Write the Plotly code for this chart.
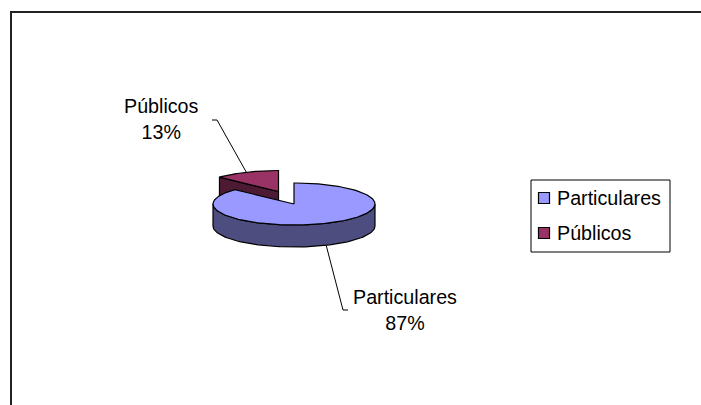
import numpy as np
import plotly.graph_objects as go

# ---- data ----
labels = ["Particulares", "Públicos"]
values = [87, 13]

# ---- styles ----
top_colors = ["#9999FF", "#993366"]
side_colors = ["#4D4D80", "#4D1A33"]
explode = [0.0, 1.0]
FONT = "Arial, Liberation Sans, sans-serif"
FS = 19.7

W, H = 701, 405
CX, CY = 294, 204          # pie centre (px)
RX, RY = 81, 21            # ellipse radii (px)
DEPTH = 22                 # pie thickness (px)
EXP_X, EXP_Y = 15.5 / 32.2, 12.5 / 19.3   # explosion factors

total = float(sum(values))
fracs = [v / total for v in values]
starts = np.concatenate([[0.0], np.cumsum(fracs)[:-1]]) * 360.0
ends = np.cumsum(fracs) * 360.0
mids = (starts + ends) / 2.0


def centre(i):
    m = np.radians(mids[i])
    return (CX + explode[i] * EXP_X * RX * np.sin(m),
            CY - explode[i] * EXP_Y * RY * np.cos(m))


def arc(cx, cy, a0, a1, dz=0.0, n=80):
    t = np.radians(np.linspace(a0, a1, n))
    return cx + RX * np.sin(t), cy - RY * np.cos(t) + dz


fig = go.Figure()


def poly(xs, ys, color):
    xs = list(xs) + [xs[0]]
    ys = list(ys) + [ys[0]]
    fig.add_trace(go.Scatter(x=xs, y=ys, mode="lines", fill="toself",
                             fillcolor=color, line=dict(color="black", width=1.2),
                             hoverinfo="skip", showlegend=False))


# --- slice 1 (Públicos, exploded, behind) ---
i = 1
cx, cy = centre(i)
ax, ay = arc(cx, cy, starts[i], starts[i], n=1)
# cut face on start edge
poly([cx, ax[0], ax[0], cx], [cy, ay[0], ay[0] + DEPTH, cy + DEPTH], side_colors[i])
# top face
tx, ty = arc(cx, cy, starts[i], ends[i])
poly(np.concatenate([[cx], tx]), np.concatenate([[cy], ty]), top_colors[i])

# --- slice 0 (Particulares) ---
i = 0
cx, cy = centre(i)
a0 = max(starts[i], 90.0)
a1 = min(ends[i], 270.0)
wx1, wy1 = arc(cx, cy, a0, a1)
wx2, wy2 = arc(cx, cy, a1, a0, dz=DEPTH)
poly(np.concatenate([wx1, wx2]), np.concatenate([wy1, wy2]), side_colors[i])
tx, ty = arc(cx, cy, starts[i], ends[i], n=200)
poly(np.concatenate([[cx], tx]), np.concatenate([[cy], ty]), top_colors[i])

# --- data labels with leader lines ---
label_pos = [(405, 310), (161, 119)]     # label centre (px)
elbows = [((343, 310), (348, 310)), ((217, 120), (212, 120))]
on_wall = [True, False]
for i in range(len(values)):
    cx, cy = centre(i)
    sx, sy = arc(cx, cy, mids[i], mids[i], dz=DEPTH if on_wall[i] else 0.0, n=1)
    (e1x, e1y), (e2x, e2y) = elbows[i]
    fig.add_trace(go.Scatter(x=[sx[0], e1x, e2x], y=[sy[0], e1y, e2y], mode="lines",
                             line=dict(color="black", width=1), hoverinfo="skip",
                             showlegend=False))
    fig.add_annotation(x=label_pos[i][0], y=label_pos[i][1], xref="x", yref="y",
                       text=f"{labels[i]}<br>{values[i] / total * 100:.0f}%",
                       showarrow=False, align="center",
                       font=dict(family=FONT, size=FS, color="black"))

# --- legend (manual) ---
LEG_X0, LEG_Y0, LEG_X1, LEG_Y1 = 531, 180, 670, 252
leg_y = [198, 233]
fig.add_shape(type="rect", x0=LEG_X0, y0=LEG_Y0, x1=LEG_X1, y1=LEG_Y1,
              xref="x", yref="y", line=dict(color="black", width=1),
              fillcolor="white", layer="below")
fig.add_trace(go.Scatter(x=[544, 544], y=leg_y, mode="markers",
                         marker=dict(symbol="square", size=11, color=top_colors,
                                     line=dict(color="black", width=1.2)),
                         hoverinfo="skip", showlegend=False))
for i in range(len(labels)):
    fig.add_annotation(x=555, y=leg_y[i], xref="x", yref="y", text=labels[i],
                       showarrow=False, xanchor="left", yanchor="middle",
                       font=dict(family=FONT, size=FS, color="black"))

# chart border
fig.add_shape(type="rect", x0=11, y0=12, x1=W + 10, y1=H + 10, xref="x", yref="y",
              line=dict(color="#222222", width=2), layer="below")

fig.update_layout(
    width=W, height=H, margin=dict(l=0, r=0, t=0, b=0),
    paper_bgcolor="white", plot_bgcolor="white",
    xaxis=dict(range=[0, W], visible=False, fixedrange=True),
    yaxis=dict(range=[H, 0], visible=False, fixedrange=True),
    showlegend=False,
)

fig.write_html("out.html")
